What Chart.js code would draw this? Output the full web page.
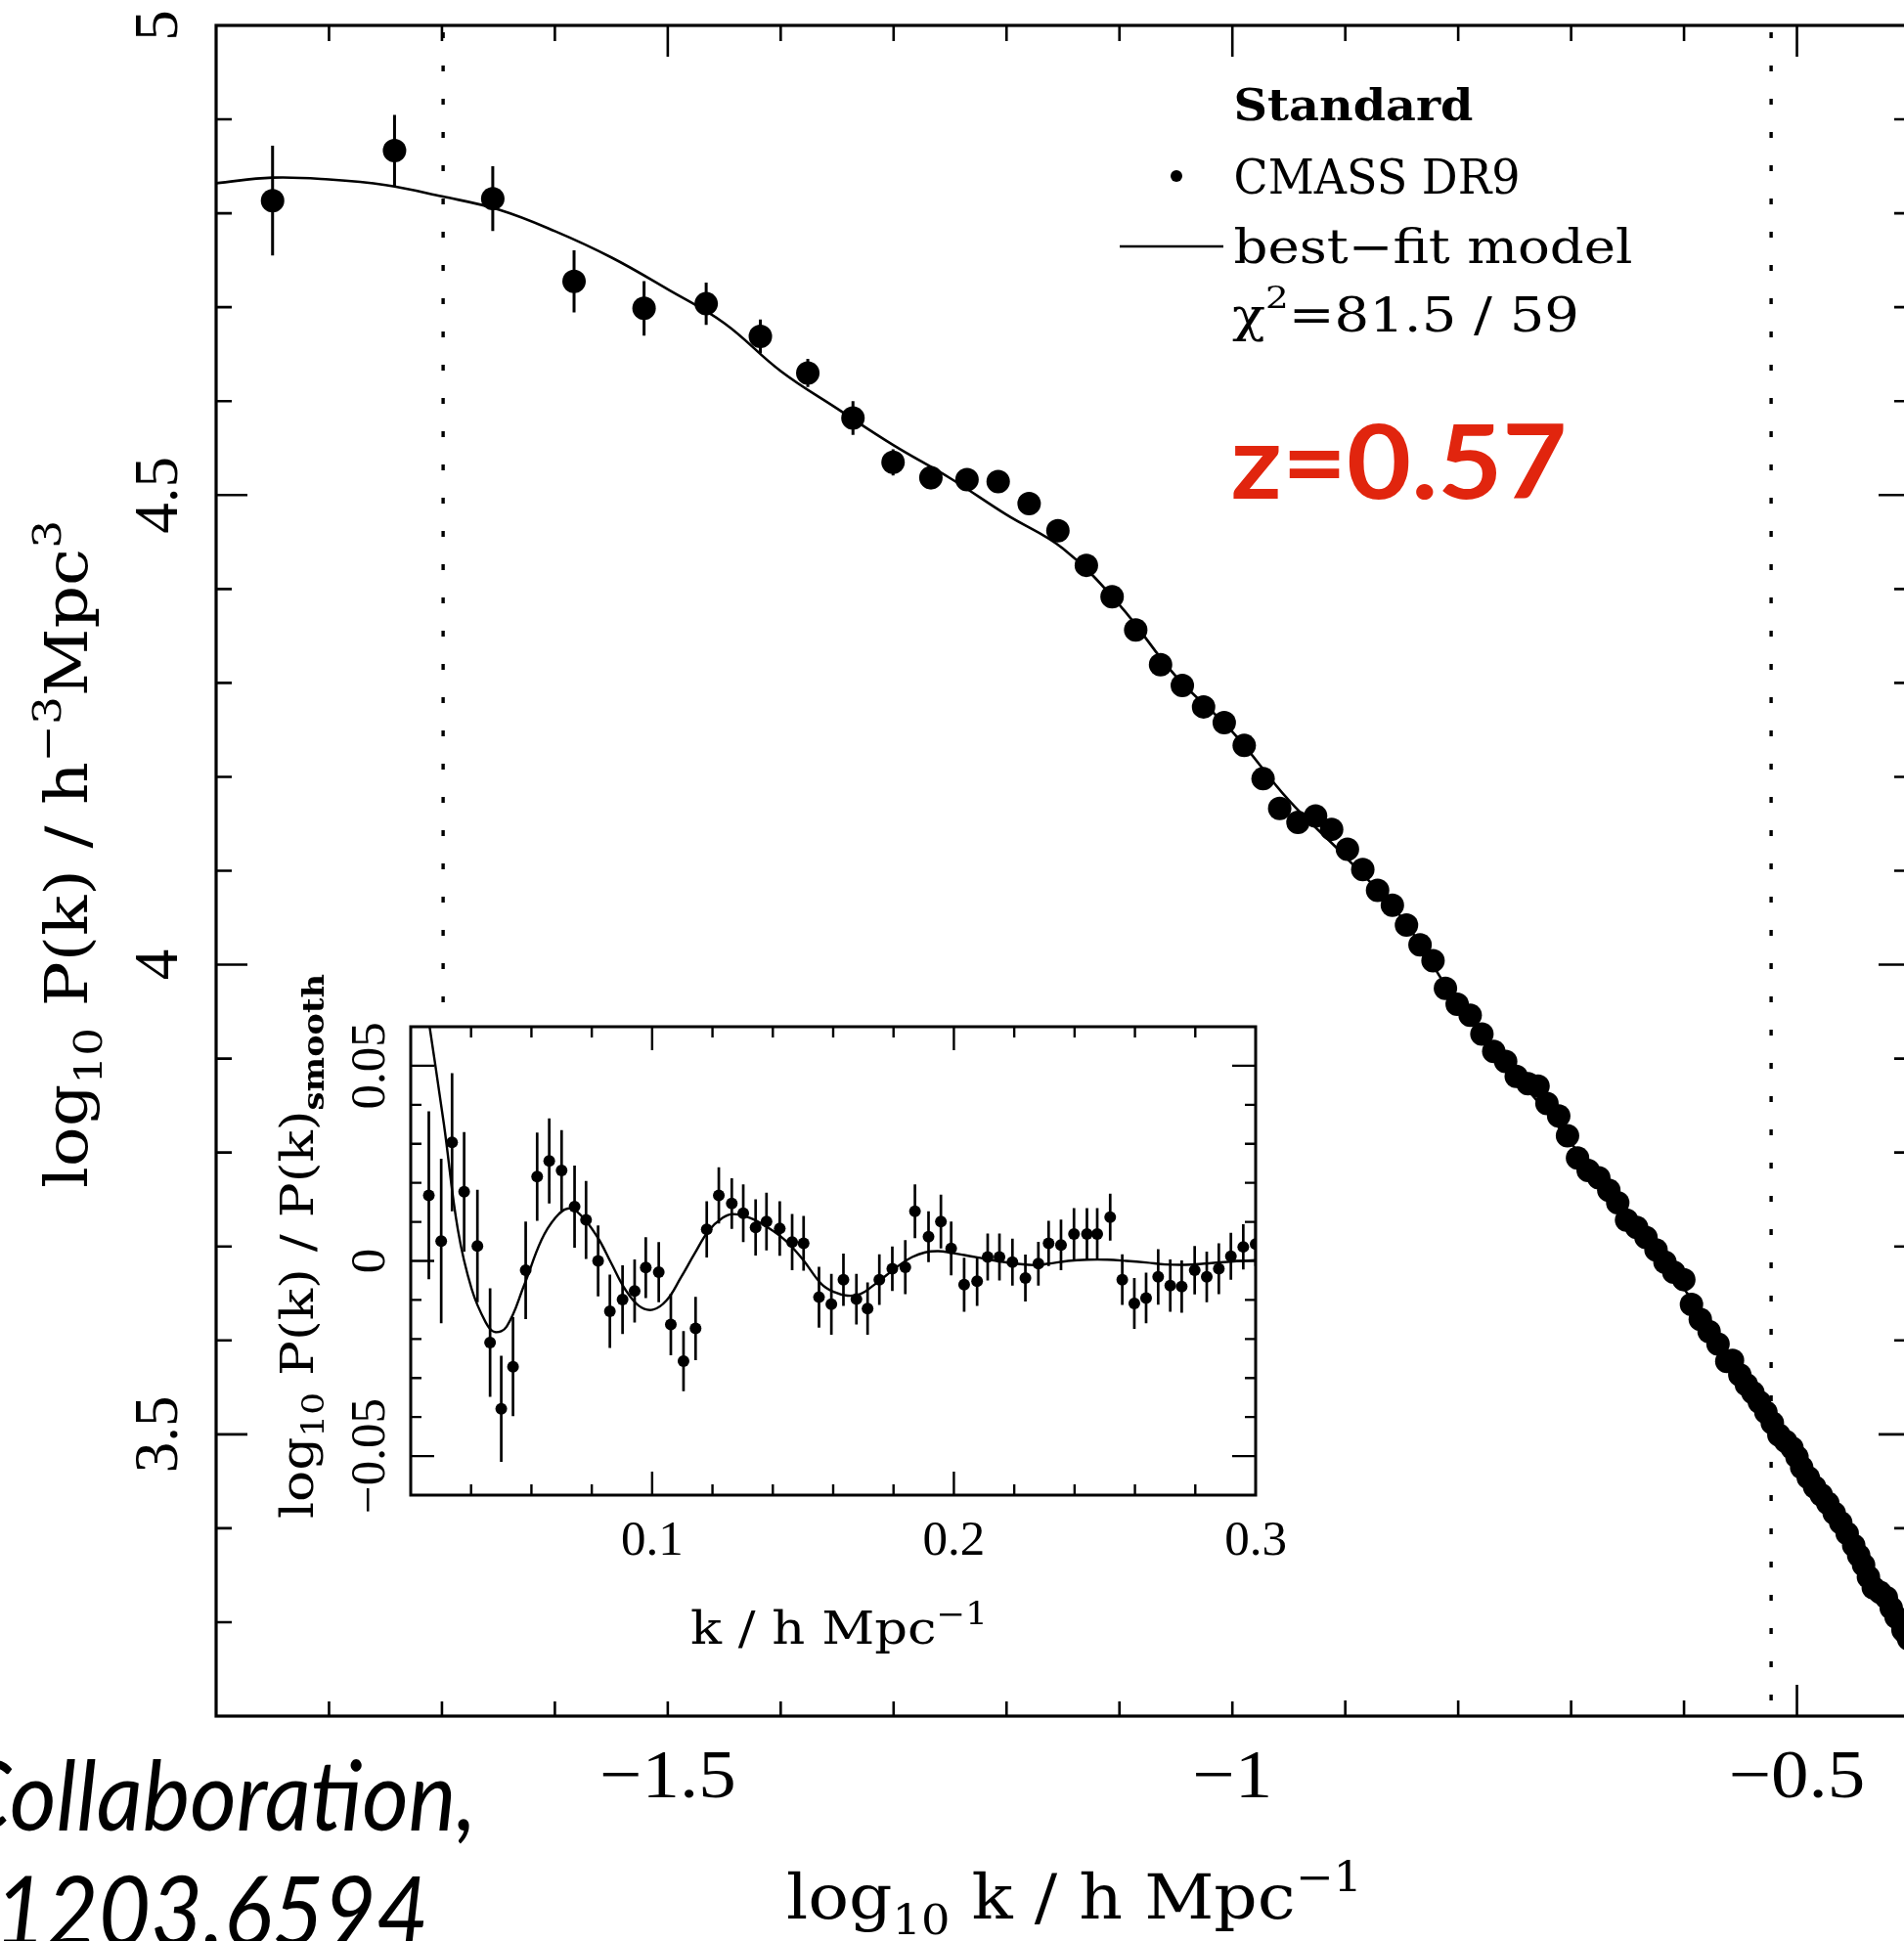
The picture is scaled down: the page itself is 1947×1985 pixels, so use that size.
<!DOCTYPE html>
<html><head><meta charset="utf-8">
<script src="https://cdn.jsdelivr.net/npm/chart.js@4.4.1/dist/chart.umd.min.js"></script>
<style>
html,body{margin:0;padding:0;background:#fff;overflow:hidden;width:1947px;height:1985px;}
#wrap{position:relative;width:1947px;height:1985px;overflow:hidden;background:#fff;}
#main{position:absolute;left:0;top:0;}
#inset{position:absolute;left:262px;top:990px;}
</style></head><body>
<div id="wrap">
<canvas id="main" width="1965" height="1985"></canvas>
<canvas id="inset" width="1060" height="750"></canvas>
</div>
<script>
// ---------------- DATA ----------------
// Main panel: log10 k [h/Mpc] and log10 P(k) [h^-3 Mpc^3]
const mainLogK = [-1.850,-1.742,-1.655,-1.583,-1.521,-1.466,-1.418,-1.376,-1.336,-1.3005,-1.267,-1.235,-1.2074,-1.180,-1.1545,-1.1293,
 -1.1065,-1.0856,-1.0636,-1.0443,-1.0255,-1.0072,-0.9895,-0.9728,-0.9581,-0.9419,-0.9263,-0.9121,-0.8981,-0.8845,-0.8714,-0.8583,
 -0.8458,-0.8338,-0.8223,-0.8113,-0.8009,-0.7894,-0.7790,-0.7685,-0.7580,-0.7486,-0.7382,-0.7293,-0.7214,-0.7110,-0.7032,-0.6943,
 -0.6849,-0.6755,-0.6666,-0.6587,-0.6509,-0.6420,-0.6337,-0.6248,-0.6169,-0.6091,-0.6002,-0.5934,-0.5856,-0.5778,-0.5699,-0.5621,
 -0.5571,-0.5506,-0.5448,-0.5390,-0.5333,-0.5275,-0.5218,-0.5160,-0.5100,-0.5044,-0.5000,-0.4958,-0.4900,-0.4843,-0.4785,-0.4727,
 -0.4670,-0.4612,-0.4555,-0.4497,-0.4453,-0.4410,-0.4367,-0.4324,-0.4266,-0.4208,-0.4165,-0.4122,-0.4061,-0.4035,-0.4010];
const mainLogP = [4.8135,4.8668,4.8156,4.7275,4.6988,4.7037,4.6689,4.630,4.582,4.5348,4.5184,4.5164,4.5143,4.491,4.462,4.4252,
 4.3918,4.3564,4.3194,4.2973,4.2745,4.2577,4.2334,4.1980,4.1663,4.1515,4.1584,4.1441,4.1230,4.1014,4.0792,4.0634,
 4.0422,4.0211,4.0042,3.9747,3.9578,3.9461,3.9261,3.9076,3.8970,3.8812,3.8733,3.8706,3.8522,3.8390,3.8178,3.7941,
 3.7809,3.7730,3.7598,3.7466,3.7281,3.7202,3.7096,3.6964,3.6832,3.6727,3.6647,3.6383,3.6225,3.6093,3.5961,3.5776,
 3.5787,3.5633,3.5530,3.5443,3.5345,3.5235,3.5120,3.4993,3.4925,3.4855,3.4760,3.4647,3.4540,3.4439,3.4355,3.4266,
 3.4160,3.4059,3.3945,3.3817,3.3710,3.3609,3.3480,3.3367,3.3320,3.3263,3.3150,3.3055,3.2917,3.2880,3.2820];
const mainErr = [0.0585,0.038,0.0345,0.033,0.029,0.0225,0.018,0.015,0.018,0.014,0.012,0.012,0.011,0.011,0.010,0.010,
 0.010,0.009,0.009,0.009,0.009,0.008,0.008,0.008,0.008,0.008,0.007,0.007,0.007,0.007,0.007,0.007,
 0.007,0.007,0.007,0.007,0.006,0.006,0.006,0.006,0.006,0.006,0.006,0.006,0.006,0.006,0.005,0.005,
 0.005,0.005,0.005,0.005,0.005,0.005,0.005,0.005,0.005,0.005,0.005,0.005,0.005,0.005,0.005,0.005,
 0.004,0.004,0.004,0.004,0.004,0.004,0.004,0.004,0.004,0.004,0.004,0.004,0.004,0.004,0.004,0.004,
 0.004,0.004,0.004,0.004,0.004,0.004,0.004,0.004,0.004,0.004,0.004,0.004,0.004,0.004,0.004];
const modelLogK = [-1.90,-1.85,-1.80,-1.75,-1.70,-1.65,-1.60,-1.55,-1.50,-1.45,-1.40,-1.35,-1.30,-1.25,-1.20,-1.15,
 -1.10,-1.05,-1.00,-0.95,-0.90,-0.85,-0.80,-0.75,-0.70,-0.65,-0.60,-0.55,-0.50,-0.45,-0.40];
const modelLogP = [4.832,4.838,4.836,4.830,4.818,4.804,4.781,4.753,4.719,4.683,4.632,4.592,4.553,4.518,4.479,4.443,
 4.383,4.307,4.248,4.175,4.115,4.050,3.958,3.884,3.810,3.728,3.655,3.563,3.478,3.382,3.282];
const fitRangeK = [0.02, 0.3];   // dotted vertical lines (k in h/Mpc)

// Inset: k [h/Mpc] and log10 P(k)/P(k)_smooth
const insetK = [0.0260,0.0301,0.0337,0.0377,0.0421,0.0463,0.0500,0.0539,0.0581,0.0619,0.0659,0.0700,0.0743,0.0781,0.0821,0.0860,
 0.0902,0.0942,0.0979,0.1022,0.1062,0.1104,0.1144,0.1181,0.1221,0.1264,0.1302,0.1343,0.1379,0.1423,0.1464,0.1502,
 0.1553,0.1594,0.1634,0.1677,0.1714,0.1753,0.1796,0.1839,0.1871,0.1916,0.1957,0.1991,0.2034,0.2077,0.2112,0.2151,
 0.2194,0.2237,0.2280,0.2314,0.2355,0.2398,0.2441,0.2475,0.2518,0.2558,0.2598,0.2637,0.2677,0.2717,0.2755,0.2798,
 0.2838,0.2878,0.2918,0.2959,0.3000];
const insetRatio = [0.0168,0.0051,0.0304,0.0177,0.0038,-0.0209,-0.0379,-0.0271,-0.0024,0.0216,0.0256,0.0232,0.0139,0.0105,0.0000,-0.0129,
 -0.0099,-0.0077,-0.0017,-0.0029,-0.0163,-0.0257,-0.0173,0.0081,0.0168,0.0147,0.0122,0.0086,0.0101,0.0083,0.0048,0.0045,
 -0.0093,-0.0111,-0.0048,-0.0098,-0.0122,-0.0048,-0.0020,-0.0016,0.0127,0.0062,0.0101,0.0032,-0.0061,-0.0052,0.0010,0.0010,
 -0.0003,-0.0044,-0.0007,0.0045,0.0041,0.0069,0.0069,0.0069,0.0112,-0.0048,-0.0109,-0.0095,-0.0041,-0.0063,-0.0066,-0.0024,
 -0.0041,-0.0020,0.0012,0.0036,0.0043];
const insetErr = [0.0215,0.0211,0.0177,0.0153,0.0144,0.0139,0.0136,0.0127,0.0125,0.0113,0.0109,0.0103,0.0105,0.0100,0.0091,0.0094,
 0.0088,0.0081,0.0078,0.0077,0.0079,0.0077,0.0081,0.0072,0.0072,0.0065,0.0074,0.0072,0.0074,0.0070,0.0072,0.0070,
 0.0078,0.0078,0.0067,0.0065,0.0067,0.0065,0.0057,0.0069,0.0069,0.0065,0.0069,0.0069,0.0069,0.0063,0.0060,0.0060,
 0.0060,0.0060,0.0056,0.0058,0.0065,0.0066,0.0066,0.0066,0.0060,0.0065,0.0065,0.0065,0.0071,0.0067,0.0067,0.0062,
 0.0065,0.0065,0.0060,0.0058,0.0056];
const insetModelK = [0.0250,0.0310,0.0356,0.0402,0.0449,0.0478,0.0518,0.0576,0.0633,0.0679,0.0720,0.0760,0.0818,0.0864,0.0910,0.0956,
 0.1002,0.1048,0.1095,0.1141,0.1187,0.1233,0.1268,0.1325,0.1383,0.1441,0.1498,0.1561,0.1604,0.1647,0.1690,0.1733,
 0.1776,0.1819,0.1862,0.1905,0.1948,0.1991,0.2034,0.2077,0.2142,0.2206,0.2271,0.2314,0.2378,0.2443,0.2508,0.2572,
 0.2637,0.2701,0.2766,0.2830,0.2895,0.3000];
const insetModelRatio = [0.0665,0.0350,0.0081,-0.0072,-0.0158,-0.0182,-0.0168,-0.0062,0.0053,0.0110,0.0134,0.0120,0.0062,-0.0005,-0.0072,-0.0115,
 -0.0125,-0.0101,-0.0043,0.0019,0.0077,0.0110,0.0120,0.0110,0.0086,0.0053,0.0005,-0.0059,-0.0080,-0.0089,-0.0085,-0.0063,
 -0.0037,-0.0011,0.0010,0.0022,0.0025,0.0021,0.0015,0.0009,0.0000,-0.0007,-0.0011,-0.0007,0.0000,0.0003,0.0003,0.0000,
 -0.0004,-0.0009,-0.0010,-0.0007,-0.0003,0.0002];

// Tick labels
const mainXTickValues = [-1.5, -1, -0.5];
const mainXTickLabels = ['\u22121.5', '\u22121', '\u22120.5'];
const mainYTickValues = [3.5, 4, 4.5, 5];
const mainYTickLabels = ['3.5', '4', '4.5', '5'];
const insetXTickValues = [0.1, 0.2, 0.3];
const insetXTickLabels = ['0.1', '0.2', '0.3'];
const insetYTickValues = [-0.05, 0, 0.05];
const insetYTickLabels = ['\u22120.05', '0', '0.05'];

// ---------------- helpers ----------------
const SERIF = '"DejaVu Serif", serif';
const TSERIF = '"Liberation Serif", serif';
const SANS = 'Lato, "Open Sans", sans-serif';

function pts(xs, ys) { return xs.map((x, i) => ({ x: x, y: ys[i] })); }
function errSegments(xs, ys, es) {
  const out = [];
  xs.forEach((x, i) => { out.push({ x: x, y: ys[i] - es[i] }, { x: x, y: ys[i] + es[i] }, { x: x, y: null }); });
  return out;
}
function fontStr(s, fam) {
  return (s.style || '') + ' ' + (s.weight || '') + ' ' + s.size + 'px ' + (s.family || fam);
}
function richText(ctx, x, y, angle, segs, o) {
  o = o || {};
  ctx.save();
  ctx.translate(x, y);
  ctx.rotate(angle || 0);
  let total = 0;
  const widths = segs.map(s => { ctx.font = fontStr(s, o.family); const w = ctx.measureText(s.t).width; total += w; return w; });
  const sx = o.width ? o.width / total : (o.sx || 1);
  ctx.scale(sx, 1);
  let cx = o.align === 'center' ? -total / 2 : (o.align === 'right' ? -total : 0);
  ctx.textAlign = 'left';
  ctx.textBaseline = 'alphabetic';
  ctx.fillStyle = o.color || '#000';
  segs.forEach((s, i) => { ctx.font = fontStr(s, o.family); ctx.fillText(s.t, cx, s.dy || 0); cx += widths[i]; });
  ctx.restore();
}
function tickValues(scale, step) {
  if (scale.ticks && scale.ticks.length > 1) return scale.ticks.map(t => t.value);
  const v = []; for (let a = scale.min; a <= scale.max + step / 2; a += step) v.push(a); return v;
}
function isMult(v, m) { const r = v / m; return Math.abs(r - Math.round(r)) < 1e-6; }
function frameTicks(ctx, area, xs, ys, xMaj, yMaj, majLen, minLen, frameW, tickW) {
  const xsc = xs.scale, ysc = ys.scale;
  ctx.save();
  ctx.strokeStyle = '#000';
  ctx.lineWidth = tickW;
  ctx.beginPath();
  tickValues(xsc, xs.step).forEach(v => {
    const p = xsc.getPixelForValue(v);
    if (p <= area.left + 1 || p >= area.right - 1) return;
    const L = isMult(v, xMaj) ? majLen : minLen;
    ctx.moveTo(p, area.bottom); ctx.lineTo(p, area.bottom - L);
    ctx.moveTo(p, area.top); ctx.lineTo(p, area.top + L);
  });
  tickValues(ysc, ys.step).forEach(v => {
    const p = ysc.getPixelForValue(v);
    if (p <= area.top + 1 || p >= area.bottom - 1) return;
    const L = isMult(v, yMaj) ? majLen : minLen;
    ctx.moveTo(area.left, p); ctx.lineTo(area.left + L, p);
    ctx.moveTo(area.right, p); ctx.lineTo(area.right - L, p);
  });
  ctx.stroke();
  ctx.lineWidth = frameW;
  ctx.strokeRect(area.left, area.top, area.right - area.left, area.bottom - area.top);
  ctx.restore();
}

// ---------------- main chart ----------------
const mainDecor = {
  id: 'mainDecor',
  beforeDatasetsDraw(chart) {
    const ctx = chart.ctx, a = chart.chartArea, xs = chart.scales.x;
    ctx.save();
    ctx.strokeStyle = '#000';
    ctx.lineWidth = 3.4;
    ctx.setLineDash([6, 28]);
    ctx.lineDashOffset = -41;
    fitRangeK.forEach(k => {
      const p = xs.getPixelForValue(Math.log10(k));
      ctx.beginPath(); ctx.moveTo(p, a.top); ctx.lineTo(p, a.bottom); ctx.stroke();
    });
    ctx.restore();
  },
  afterDraw(chart) {
    const ctx = chart.ctx, a = chart.chartArea, xs = chart.scales.x, ys = chart.scales.y;
    frameTicks(ctx, a, { scale: xs, step: 0.1 }, { scale: ys, step: 0.1 }, 0.5, 0.5, 32, 16, 3.2, 2.6);
    mainXTickValues.forEach((v, i) => {
      richText(ctx, xs.getPixelForValue(v), 1838, 0, [{ t: mainXTickLabels[i], size: 70 }], { family: TSERIF, align: 'center', sx: 1.1 });
    });
    mainYTickValues.forEach((v, i) => {
      richText(ctx, 181, ys.getPixelForValue(v), -Math.PI / 2, [{ t: mainYTickLabels[i], size: 63 }], { family: TSERIF, align: 'center' });
    });
    richText(ctx, 804, 1962, 0, [
      { t: 'log', size: 63 }, { t: '10', size: 42, dy: 16 }, { t: ' k / h Mpc', size: 63 }, { t: '\u22121', size: 42, dy: -28 }
    ], { family: SERIF, width: 589 });
    richText(ctx, 89, 1215, -Math.PI / 2, [
      { t: 'log', size: 60 }, { t: '10', size: 40, dy: 15 }, { t: ' P(k) / h', size: 60 }, { t: '\u22123', size: 40, dy: -27 },
      { t: 'Mpc', size: 60 }, { t: '3', size: 40, dy: -27 }
    ], { family: SERIF, width: 683 });
    richText(ctx, 1261.5, 123, 0, [{ t: 'Standard', size: 45, weight: 'bold' }], { family: SERIF, width: 245 });
    ctx.save(); ctx.fillStyle = '#000'; ctx.beginPath(); ctx.arc(1203, 180, 6, 0, Math.PI * 2); ctx.fill(); ctx.restore();
    richText(ctx, 1261.5, 198, 0, [{ t: 'CMASS DR9', size: 48 }], { family: SERIF, width: 293 });
    ctx.save(); ctx.strokeStyle = '#000'; ctx.lineWidth = 2.6; ctx.beginPath(); ctx.moveTo(1145, 252); ctx.lineTo(1251, 252); ctx.stroke(); ctx.restore();
    richText(ctx, 1261.5, 269, 0, [{ t: 'best\u2212fit model', size: 48 }], { family: SERIF, width: 408 });
    richText(ctx, 1260, 339, 0, [{ t: '\u03c7', size: 48 }, { t: '2', size: 32, dy: -24 }, { t: '=81.5 / 59', size: 48 }], { family: SERIF, width: 355 });
    richText(ctx, 1258.5, 510, 0, [{ t: 'z=0.57', size: 106, weight: 'bold' }], { family: SANS, width: 344, color: '#e1250e' });
    richText(ctx, -46, 1872, 0, [{ t: 'Collaboration,', size: 100, style: 'italic' }], { family: SANS, width: 533 });
    richText(ctx, -6, 1990, 0, [{ t: '1203.6594', size: 100, style: 'italic' }], { family: SANS, width: 444 });
  }
};

new Chart(document.getElementById('main'), {
  type: 'scatter',
  data: {
    datasets: [
      { label: 'CMASS DR9', data: pts(mainLogK, mainLogP), showLine: false, pointRadius: 12, pointHoverRadius: 12,
        pointBackgroundColor: '#000', pointBorderWidth: 0, order: 0 },
      { label: 'errors', data: errSegments(mainLogK, mainLogP, mainErr), showLine: true, borderColor: '#000', borderWidth: 3,
        pointRadius: 0, spanGaps: false, order: 1 },
      { label: 'best-fit model', data: pts(modelLogK, modelLogP), showLine: true, borderColor: '#000', borderWidth: 2.6,
        pointRadius: 0, tension: 0.4, order: 2 }
    ]
  },
  options: {
    responsive: false, animation: false, devicePixelRatio: 1, events: [],
    layout: { padding: { left: 221, top: 26, right: 10, bottom: 230 } },
    plugins: { legend: { display: false }, tooltip: { enabled: false } },
    scales: {
      x: { type: 'linear', min: -1.9, max: -0.4, display: false, ticks: { stepSize: 0.1 } },
      y: { type: 'linear', min: 3.2, max: 5.0, display: false, ticks: { stepSize: 0.1 } }
    }
  },
  plugins: [mainDecor]
});

// ---------------- inset chart ----------------
const OX = 262, OY = 990;
const insetDecor = {
  id: 'insetDecor',
  beforeDraw(chart) {
    const ctx = chart.ctx;
    ctx.save(); ctx.fillStyle = '#fff'; ctx.fillRect(0, 1045 - OY, chart.width, 1740 - 1045); ctx.restore();
  },
  afterDraw(chart) {
    const ctx = chart.ctx, a = chart.chartArea, xs = chart.scales.x, ys = chart.scales.y;
    frameTicks(ctx, a, { scale: xs, step: 0.02 }, { scale: ys, step: 0.01 }, 0.1, 0.05, 24, 11, 3, 2.4);
    insetXTickValues.forEach((v, i) => {
      richText(ctx, xs.getPixelForValue(v), 1590 - OY, 0, [{ t: insetXTickLabels[i], size: 51 }], { family: TSERIF, align: 'center' });
    });
    insetYTickValues.forEach((v, i) => {
      richText(ctx, 393 - OX, ys.getPixelForValue(v), -Math.PI / 2, [{ t: insetYTickLabels[i], size: 51 }], { family: TSERIF, align: 'center' });
    });
    richText(ctx, 706 - OX, 1681 - OY, 0, [{ t: 'k / h Mpc', size: 46 }, { t: '\u22121', size: 31, dy: -20 }], { family: SERIF, width: 304 });
    richText(ctx, 320 - OX, 1553 - OY, -Math.PI / 2, [
      { t: 'log', size: 46 }, { t: '10', size: 31, dy: 11 }, { t: ' P(k) / P(k)', size: 46 }, { t: 'smooth', size: 29, dy: 11, weight: 'bold' }
    ], { family: SERIF, width: 557 });
  }
};

new Chart(document.getElementById('inset'), {
  type: 'scatter',
  data: {
    datasets: [
      { label: 'ratio', data: pts(insetK, insetRatio), showLine: false, pointRadius: 6, pointHoverRadius: 6,
        pointBackgroundColor: '#000', pointBorderWidth: 0, order: 0 },
      { label: 'ratio errors', data: errSegments(insetK, insetRatio, insetErr), showLine: true, borderColor: '#000', borderWidth: 2.7,
        pointRadius: 0, spanGaps: false, order: 1 },
      { label: 'model ratio', data: pts(insetModelK, insetModelRatio), showLine: true, borderColor: '#000', borderWidth: 2.4,
        pointRadius: 0, tension: 0.4, order: 2 }
    ]
  },
  options: {
    responsive: false, animation: false, devicePixelRatio: 1, events: [],
    layout: { padding: { left: 420 - OX, top: 1050 - OY, right: 1060 - (1284 - OX), bottom: 750 - (1529 - OY) } },
    plugins: { legend: { display: false }, tooltip: { enabled: false } },
    scales: {
      x: { type: 'linear', min: 0.02, max: 0.3, display: false, ticks: { stepSize: 0.02 } },
      y: { type: 'linear', min: -0.06, max: 0.06, display: false, ticks: { stepSize: 0.01 } }
    }
  },
  plugins: [insetDecor]
});
</script>
</body></html>
